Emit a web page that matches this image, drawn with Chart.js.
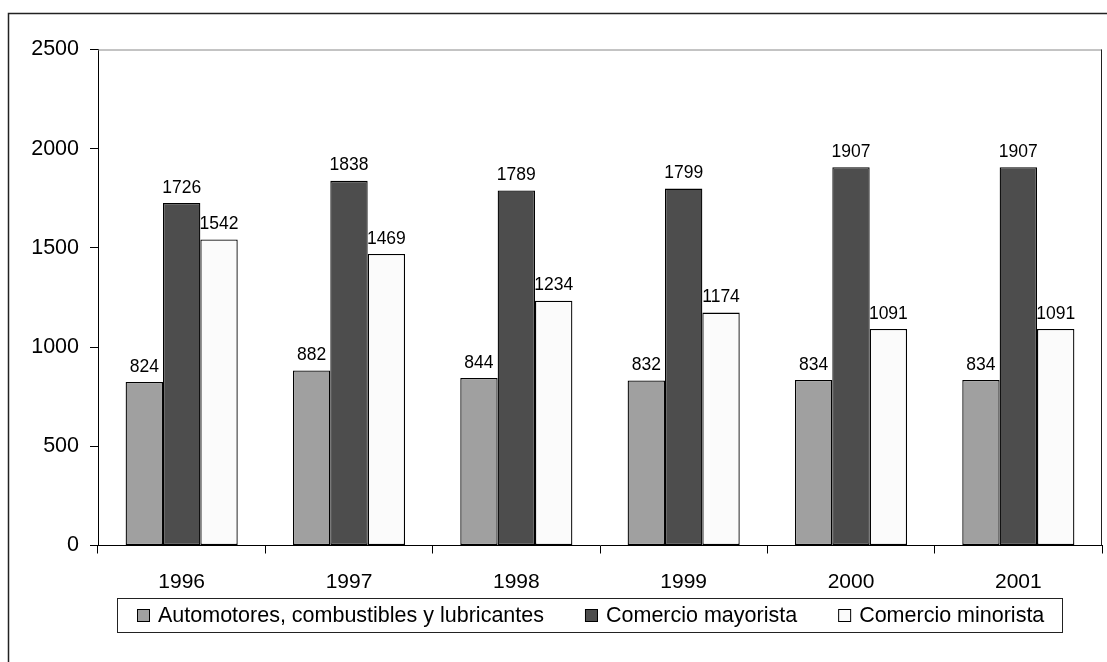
<!DOCTYPE html>
<html>
<head>
<meta charset="utf-8">
<script src="https://cdn.jsdelivr.net/npm/chart.js@4.4.0/dist/chart.umd.min.js"></script>
<style>
  body { margin: 0; background: #fff; }
  #wrap { width: 1107px; height: 662px; position: relative; }
</style>
</head>
<body>
<div id="wrap"><canvas id="chart"></canvas></div>
<script>
// Data
const years = ['1996', '1997', '1998', '1999', '2000', '2001'];
const automotores = [824, 882, 844, 832, 834, 834];
const mayorista = [1726, 1838, 1789, 1799, 1907, 1907];
const minorista = [1542, 1469, 1234, 1174, 1091, 1091];
const seriesNames = ['Automotores, combustibles y lubricantes', 'Comercio mayorista', 'Comercio minorista'];
const seriesColors = ['#a0a0a0', '#4d4d4d', '#fbfbfb'];

const fontFamily = "Arial, 'Liberation Sans', sans-serif";

//Outer frame, plot border, value labels and the boxed legend
const decorations = {
    id: 'decorations',
    beforeDraw(chart) {
        const ctx = chart.ctx;
        ctx.save();
        ctx.strokeStyle = '#222';
        ctx.lineWidth = 1.5;
        ctx.beginPath();
        ctx.moveTo(8.5, 662);
        ctx.lineTo(8.5, 13.5);
        ctx.lineTo(1107, 13.5);
        ctx.stroke();
        ctx.restore();
    },
    afterDatasetsDraw(chart) {
        const ctx = chart.ctx;
        const a = chart.chartArea;
        ctx.save();
        //top and right border of the plot area
        ctx.lineWidth = 1;
        ctx.strokeStyle = '#888';
        ctx.beginPath();
        ctx.moveTo(a.left, a.top + 0.5);
        ctx.lineTo(a.right, a.top + 0.5);
        ctx.stroke();
        ctx.strokeStyle = '#222';
        ctx.beginPath();
        ctx.moveTo(a.right - 0.5, a.top);
        ctx.lineTo(a.right - 0.5, a.bottom);
        ctx.stroke();

        //value labels above each bar
        ctx.fillStyle = '#000';
        ctx.font = '17.5px ' + fontFamily;
        ctx.textAlign = 'center';
        ctx.textBaseline = 'alphabetic';
        chart.data.datasets.forEach((ds, i) => {
            chart.getDatasetMeta(i).data.forEach((bar, j) => {
                ctx.fillText(String(ds.data[j]), bar.x, bar.y - 10.5);
            });
        });
        ctx.restore();
    },
    afterDraw(chart) {
        const ctx = chart.ctx;
        ctx.save();
        ctx.lineWidth = 1;
        ctx.strokeStyle = '#222';
        ctx.strokeRect(117.5, 598.5, 945, 34);
        ctx.font = '21.5px ' + fontFamily;
        ctx.textBaseline = 'middle';
        ctx.textAlign = 'left';
        let x = 137;
        chart.data.datasets.forEach((ds) => {
            ctx.fillStyle = ds.backgroundColor;
            ctx.fillRect(x, 609, 13, 13);
            ctx.strokeStyle = '#000';
            ctx.strokeRect(x + 0.5, 609.5, 12, 12);
            ctx.fillStyle = '#000';
            ctx.fillText(ds.label, x + 21, 616);
            x += 21 + ctx.measureText(ds.label).width + 41;
        });
        ctx.restore();
    }
};

const datasets = [automotores, mayorista, minorista].map((values, i) => ({
    label: seriesNames[i],
    data: values,
    backgroundColor: seriesColors[i],
    borderColor: '#000',
    borderWidth: 1.3,
    borderSkipped: false,
    categoryPercentage: 0.67,
    barPercentage: 1.0
}));

new Chart(document.getElementById('chart'), {
    type: 'bar',
    data: { labels: years, datasets: datasets },
    options: {
        responsive: true,
        maintainAspectRatio: false,
        animation: false,
        layout: { padding: { top: 49.5, right: 5, left: 0, bottom: 0 } },
        plugins: {
            legend: { display: false },
            tooltip: { enabled: false }
        },
        scales: {
            x: {
                grid: { offset: true, drawOnChartArea: false, drawTicks: true, tickLength: 8, color: '#000' },
                border: { display: true, color: '#000', width: 1 },
                ticks: { color: '#000', font: { family: fontFamily, size: 21 }, padding: 16, maxRotation: 0 },
                afterFit: (scale) => { scale.height = 662 - 545.5; }
            },
            y: {
                min: 0,
                max: 2500,
                grid: { drawOnChartArea: false, drawTicks: true, tickLength: 8, color: '#000' },
                border: { display: true, color: '#000', width: 1 },
                ticks: { stepSize: 500, color: '#000', font: { family: fontFamily, size: 21.5 }, padding: 11, callback: (v) => String(v) },
                afterFit: (scale) => { scale.width = 98; }
            }
        }
    },
    plugins: [decorations]
});
</script>
</body>
</html>
